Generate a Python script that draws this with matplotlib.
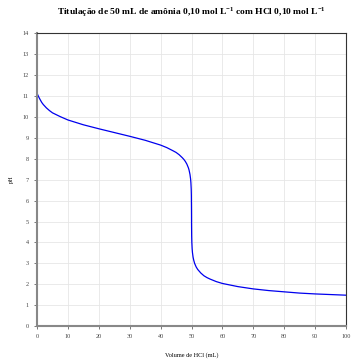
import matplotlib
matplotlib.use("Agg")
import matplotlib.pyplot as plt

plt.rcParams['font.family'] = ['Liberation Serif', 'DejaVu Serif']
plt.rcParams['mathtext.fontset'] = 'custom'
plt.rcParams['mathtext.rm'] = 'Liberation Serif'
plt.rcParams['mathtext.bf'] = 'Liberation Serif:bold'

# volume de HCl (mL) e pH
volume = [0, 0.25, 0.5, 1, 1.5, 2, 3, 4, 5, 7.5, 10, 15, 20, 25, 30, 35,
          40, 42, 44, 45, 46, 47, 47.5, 48, 48.5, 49, 49.2, 49.5, 49.7,
          49.8, 49.9, 49.95, 49.99, 50, 50.01, 50.05, 50.1, 50.2, 50.3,
          50.5, 50.7, 51, 51.5, 52, 53, 54, 55, 56, 58, 60, 65, 70, 75,
          80, 85, 90, 95, 100]
ph = [11.13, 11.04, 10.96, 10.82, 10.69, 10.59, 10.43, 10.30, 10.19, 10.01,
      9.85, 9.62, 9.43, 9.25, 9.07, 8.88, 8.65, 8.53, 8.38, 8.30, 8.19,
      8.05, 7.97, 7.87, 7.74, 7.56, 7.46, 7.25, 7.03, 6.85, 6.55, 6.25,
      5.55, 5.28, 4.85, 4.30, 4.00, 3.70, 3.52, 3.30, 3.16, 3.00, 2.83,
      2.71, 2.54, 2.41, 2.32, 2.25, 2.13, 2.04, 1.89, 1.78, 1.70, 1.64,
      1.58, 1.54, 1.51, 1.48]

fig = plt.figure(figsize=(3.6, 3.6), dpi=100)
ax = fig.add_axes([0.103, 0.094, 0.858, 0.814])

ax.plot(volume, ph, color='#0000ee', linewidth=0.9)

ax.set_xlim(0, 100)
ax.set_ylim(0, 14)
ax.set_xticks(range(0, 101, 10))
ax.set_yticks(range(0, 15))
ax.grid(True, color='#e6e6e6', linewidth=0.6)
ax.set_axisbelow(True)
ax.tick_params(labelsize=4.5, colors='#444444', length=2, width=0.5, pad=4)

for s in ['top', 'right']:
    ax.spines[s].set_color('#333333')
    ax.spines[s].set_linewidth(0.8)
for s in ['left', 'bottom']:
    ax.spines[s].set_color('#888888')
    ax.spines[s].set_linewidth(1.5)

ax.set_xlabel('Volume de HCl (mL)', fontsize=4.5, labelpad=9)
ax.set_ylabel('pH', fontsize=4.5, labelpad=6)
ax.set_title(r'Titulação de 50 mL de amônia 0,10 mol L$^{\mathbf{-1}}$ com HCl 0,10 mol L$^{\mathbf{-1}}$',
             fontsize=6.8, fontweight='bold', pad=13)

fig.savefig('out.png', dpi=100)
